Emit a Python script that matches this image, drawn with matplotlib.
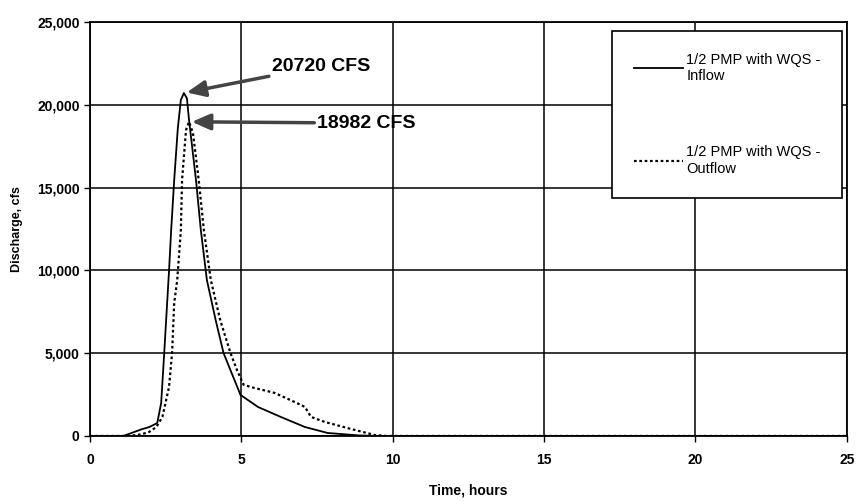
import matplotlib.pyplot as plt
from matplotlib.ticker import FuncFormatter

plt.rcParams['font.family'] = ['Liberation Sans', 'DejaVu Sans']

# Inflow hydrograph (hours, cfs)
t_in = [0, 1.1, 1.4, 1.7, 1.96, 2.22, 2.35, 2.45, 2.61, 2.68, 2.78, 2.9, 3.0,
        3.1, 3.2, 3.27, 3.5, 3.66, 3.86, 4.15, 4.41, 4.7, 4.97, 5.55, 6.3,
        7.1, 7.85, 8.9, 9.5, 12, 15, 20, 25]
q_in = [0, 0, 200, 400, 540, 780, 2000, 5010, 10000, 12440, 15460, 18600,
        20300, 20720, 20400, 19090, 15460, 12440, 9420, 7000, 5010, 3700,
        2480, 1750, 1150, 540, 180, 30, 0, 0, 0, 0, 0]

# Outflow hydrograph (hours, cfs)
t_out = [0, 1.3, 1.7, 1.96, 2.19, 2.39, 2.61, 2.71, 2.78, 2.88, 3.0, 3.04,
         3.17, 3.27, 3.4, 3.59, 3.76, 3.99, 4.3, 4.64, 4.85, 5.07, 5.3, 6.1,
         6.76, 7.1, 7.3, 7.75, 8.5, 9.4, 9.8, 12, 15, 20, 25]
q_out = [0, 0, 100, 250, 540, 1150, 2960, 5010, 8030, 9420, 12440, 15460,
         18480, 18982, 18300, 15460, 12440, 9420, 7000, 5010, 4000, 3100,
         2960, 2600, 2050, 1750, 1150, 850, 480, 60, 0, 0, 0, 0, 0]

peak_in = (3.1, 20720)
peak_out = (3.27, 18982)

fig = plt.figure(figsize=(8.6, 5.04), dpi=100)
ax = fig.add_axes([0.1047, 0.135, 0.88, 0.821])

ax.plot(t_in, q_in, color='black', lw=1.3, label='1/2 PMP with WQS -\nInflow')
ax.plot(t_out, q_out, color='black', lw=1.6, ls=(0, (1.2, 1.2)),
        label='1/2 PMP with WQS -\nOutflow')

ax.set_xlim(0, 25)
ax.set_ylim(0, 25000)
ax.set_xticks([0, 5, 10, 15, 20, 25])
ax.set_yticks(range(0, 25001, 5000))
ax.yaxis.set_major_formatter(FuncFormatter(lambda v, p: f'{int(v):,}'))
ax.grid(True, color='black', lw=1.1)
ax.set_axisbelow(True)
for s in ax.spines.values():
    s.set_color('black')
    s.set_linewidth(1.3)
ax.tick_params(axis='both', direction='out', length=4, width=1,
               labelsize=10)
for lab in ax.get_xticklabels() + ax.get_yticklabels():
    lab.set_fontweight('bold')
ax.tick_params(axis='x', pad=8)

ax.set_xlabel('Time, hours', fontsize=10, fontweight='bold', labelpad=12)
ax.set_ylabel('Discharge, cfs', fontsize=9, fontweight='bold', labelpad=10)

arrow = dict(arrowstyle='-|>,head_length=0.8,head_width=0.35',
             color='#444444', lw=2.5, shrinkA=0, shrinkB=2)
ax.annotate(f'{peak_in[1]} CFS', xy=peak_in, xytext=(6.0, 22350),
            fontsize=14, fontweight='bold', va='center', ha='left',
            arrowprops=arrow)
ax.annotate(f'{peak_out[1]} CFS', xy=peak_out, xytext=(7.5, 18900),
            fontsize=14, fontweight='bold', va='center', ha='left',
            arrowprops=arrow)

leg = ax.legend(loc='upper right', bbox_to_anchor=(1.0, 0.99),
                frameon=True, fancybox=False, fontsize=10.5,
                handlelength=3.4, labelspacing=4.3, borderpad=1.5,
                handletextpad=0.2, borderaxespad=0.3)
leg.get_frame().set_edgecolor('black')
leg.get_frame().set_linewidth(1.2)
leg.get_frame().set_alpha(1)

fig.savefig('out.png', dpi=100)
